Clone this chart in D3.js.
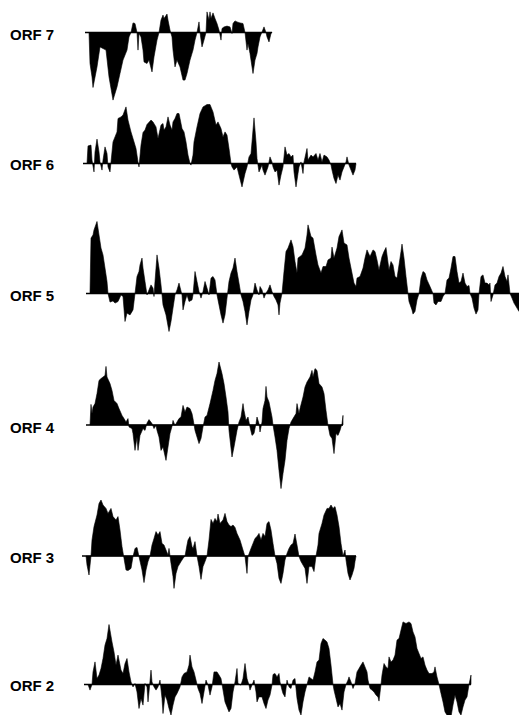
<!DOCTYPE html>
<html>
<head>
<meta charset="utf-8">
<script src="https://cdn.jsdelivr.net/npm/d3@7"></script>
<style>
  html, body { margin: 0; padding: 0; background: #fff; }
  svg { display: block; }
</style>
</head>
<body>
<script>
'use strict';

// hydropathy profiles: [residue, hydropathy value]
const orf7 = [[0,0],[1,-1.55],[3,-2.22],[4,-2.75],[8,-1.72],[11,-0.72],[14,-0.80],[17,-0.88],[20,-2.22],[24,-3.38],
  [28,-2.72],[31,-2.05],[34,-1.38],[38,-0.88],[40,-0.22],[42,0],[44,0.48],[46,0.45],[48,0],[49,-0.88],[50,-0.05],
  [52,-0.22],[54,-0.88],[55,-1.47],[58,-1.55],[60,-1.38],[63,-1.97],[65,-1.22],[68,-0.38],[70,0],[72,0.62],[74,0.87],
  [75,0.70],[78,0.92],[79,0.62],[81,0.12],[83,-0.22],[84,-0.88],[86,-1.72],[88,-1.38],[91,-1.72],[94,-2.38],[96,-2.38],
  [98,-2.05],[101,-1.38],[104,-0.88],[106,-0.38],[108,0],[110,0.53],[111,0],[113,-0.72],[115,-0.38],[117,0],[118,1.03],
  [120,0.62],[121,1.03],[122,0.70],[124,0.98],[126,0.70],[128,0.45],[130,0.12],[132,-0.38],[133,0.20],[135,0.28],
  [138,0.32],[141,0.28],[143,-0.05],[144,0.45],[146,0.58],[148,0.53],[151,0.48],[154,0.45],[156,0],[158,-0.88],
  [159,-0.55],[161,-1.05],[163,-1.72],[164,-2.05],[166,-1.38],[168,-1.05],[169,-0.72],[171,-0.22],[173,0.03],
  [175,0.28],[177,0],[178,-0.22],[180,-0.47],[182,-0.05],[183,0]];

const orf6 = [[0,0],[1,0.88],[4,0.92],[5,0.17],[7,-0.42],[8,0.58],[10,1.22],[12,0.58],[13,0.08],[15,-0.33],[16,0.17],
  [18,0.83],[20,0.50],[21,-0.17],[23,-0.42],[24,0.08],[26,1.08],[28,1.33],[30,1.58],[31,2.25],[34,2.33],[36,2.42],
  [39,2.83],[41,2.17],[44,1.58],[46,1.25],[49,0.75],[51,0.08],[52,-0.17],[54,0.92],[56,1.55],[58,1.67],[60,1.95],
  [64,2.17],[66,2.08],[69,1.83],[71,1.25],[74,1.92],[76,2.00],[77,1.67],[79,1.83],[81,2.33],[83,1.92],[85,1.67],
  [86,2.08],[88,2.25],[90,2.50],[92,2.50],[95,1.75],[97,1.58],[99,1.08],[101,0.42],[103,0],[104,-0.08],[106,0.42],
  [107,1.08],[110,1.83],[113,2.50],[116,2.83],[120,2.95],[123,2.95],[126,2.58],[129,1.92],[131,2.08],[134,1.75],
  [136,1.33],[138,1.58],[140,1.42],[142,0.75],[144,0],[145,-0.17],[147,-0.33],[150,-0.17],[152,-0.58],[155,-1.17],
  [158,-0.50],[160,-0.17],[162,0.33],[164,0.50],[165,1.08],[167,2.28],[169,1.08],[170,0.25],[172,-0.42],[175,-0.08],
  [176,-0.33],[178,-0.58],[181,-0.17],[183,0.33],[185,0.08],[186,-0.17],[188,-0.42],[190,-0.33],[192,-1.08],
  [194,-0.58],[196,-0.17],[198,0.83],[200,0.42],[202,0.50],[204,0.33],[206,0.42],[207,-0.42],[209,-1.17],[211,-0.50],
  [212,-0.17],[214,0.08],[216,-0.50],[217,0.08],[220,0.75],[221,0.17],[224,0.42],[226,0.33],[229,0.50],[231,0.17],
  [233,0.50],[235,0.08],[237,0.42],[240,0.33],[242,0.17],[244,-0.08],[245,-0.33],[247,-0.75],[249,-1.00],[251,-0.58],
  [253,-0.83],[255,-0.42],[257,-0.17],[259,0.08],[260,0.33],[262,-0.08],[264,-0.33],[266,-0.58],[268,-0.33],[269,0]];

const orf5 = [[0,0],[1,2.77],[3,2.93],[4,3.18],[7,3.60],[9,2.93],[11,2.27],[13,1.93],[15,1.27],[17,0.60],[18,0],
  [20,-0.43],[23,-0.37],[25,-0.48],[28,-0.40],[31,-0.07],[33,-0.15],[35,-1.40],[37,-0.98],[40,-1.07],[43,-0.82],
  [45,0],[47,0.85],[49,1.10],[50,1.43],[52,1.77],[53,1.27],[55,0.60],[57,-0.07],[59,0.18],[61,0.43],[63,0.27],
  [64,-0.15],[65,0.60],[67,1.93],[69,1.27],[71,0.43],[73,-0.57],[76,-1.07],[79,-1.90],[81,-1.40],[83,-0.73],
  [85,-0.07],[87,0.18],[89,0.52],[92,-0.07],[93,-0.82],[95,-0.40],[97,-0.07],[99,-0.40],[102,-0.32],[103,-0.07],
  [105,1.10],[107,0.60],[109,0.10],[111,-0.23],[113,0.10],[115,0.60],[117,0.27],[119,-0.07],[121,0.77],[123,0.85],
  [125,0.68],[127,-0.07],[129,-0.57],[131,-1.07],[133,-1.48],[135,-1.07],[137,-0.23],[139,0.60],[141,1.02],
  [143,1.27],[145,1.77],[147,1.10],[149,0.52],[151,-0.07],[153,-0.40],[155,-0.90],[157,-1.57],[159,-0.90],
  [161,-0.32],[163,-0.07],[165,0.52],[167,0.18],[169,-0.07],[170,0.35],[172,0.18],[174,-0.23],[176,0.02],[178,0.18],
  [180,0.43],[182,0.10],[184,-0.15],[186,-0.32],[188,-0.57],[189,-1.07],[190,-0.48],[192,0],[194,1.10],[196,2.10],
  [198,2.27],[201,2.68],[203,2.35],[205,1.60],[207,1.02],[208,1.77],[212,1.93],[215,2.27],[217,2.93],[218,3.43],
  [221,2.85],[223,2.77],[226,1.93],[228,1.43],[231,1.02],[233,1.35],[236,1.35],[238,1.68],[241,1.77],[242,2.32],
  [244,1.77],[247,2.27],[249,2.85],[252,3.18],[254,2.52],[257,2.43],[259,1.77],[262,1.02],[264,0.52],[266,0.35],
  [267,0.77],[270,0.85],[273,1.27],[275,1.77],[277,2.18],[280,1.85],[283,2.18],[285,2.10],[287,1.68],[289,1.18],
  [292,1.85],[294,2.10],[296,2.30],[297,1.93],[299,1.18],[301,1.60],[303,1.43],[305,0.85],[307,0.77],[309,1.43],
  [311,2.10],[312,2.47],[314,1.77],[316,0.85],[318,0],[319,-0.40],[322,-0.82],[323,-1.03],[325,-0.90],[327,-0.32],
  [329,0],[331,0.77],[333,1.10],[335,1.02],[337,0.68],[340,0.35],[343,0],[344,-0.48],[346,-0.57],[348,-0.40],
  [351,-0.40],[353,-0.15],[355,0],[357,0.68],[359,0.77],[361,1.27],[363,1.85],[365,1.85],[367,1.10],[369,0.52],
  [371,0.60],[373,1.02],[375,0.52],[377,0.35],[379,0.40],[380,0],[382,-0.23],[384,-0.73],[386,-1.03],[388,-0.82],
  [389,0],[391,0.85],[393,0.93],[395,0.52],[397,0.52],[399,0.43],[400,0.52],[401,-0.40],[403,-0.07],[405,0.43],
  [407,0.52],[409,0.85],[411,1.02],[413,1.35],[415,0.85],[417,0.60],[418,0.93],[420,0],[422,-0.23],[424,-0.48],
  [427,-0.73],[429,-0.90],[431,-0.90]];

const orf4 = [[0,0],[1,1.03],[2,0.57],[3,0.90],[5,1.07],[7,1.57],[9,2.23],[11,2.32],[13,2.40],[15,2.48],[16,2.93],
  [17,2.40],[20,2.07],[22,1.73],[24,1.23],[27,1.07],[29,0.82],[32,0.48],[34,0.32],[36,0.15],[38,0.32],[39,-0.10],
  [42,-0.18],[43,-0.43],[45,-1.27],[47,-0.60],[48,-1.27],[50,-0.52],[53,-0.18],[55,-0.27],[57,0.10],[59,0.27],
  [62,0.07],[64,-0.18],[66,-0.02],[67,-0.27],[69,-0.60],[71,-1.27],[73,-1.10],[76,-1.77],[78,-1.10],[80,-0.43],
  [82,-0.07],[83,0.23],[85,-0.02],[87,0.15],[89,0.32],[91,0.40],[93,0.98],[95,0.65],[97,0.90],[100,0.82],[102,0.57],
  [103,0.32],[105,-0.27],[107,-0.60],[109,-0.93],[111,-0.68],[113,-0.10],[115,0.40],[117,0.48],[120,1.07],[123,1.73],
  [125,2.23],[127,2.57],[129,3.15],[132,2.57],[134,2.07],[136,1.40],[138,0.65],[139,-0.27],[142,-1.60],[144,-1.10],
  [147,-0.27],[149,0.15],[151,0.40],[153,1.07],[154,0.73],[156,0.23],[158,0.40],[160,-0.10],[162,-0.52],[164,-0.43],
  [166,0.07],[167,0.40],[169,0.07],[170,-0.35],[172,0.15],[173,0.82],[175,1.23],[176,1.93],[177,1.40],[179,1.15],
  [182,0.40],[183,0],[185,-0.60],[187,-1.27],[189,-2.27],[191,-3.18],[193,-2.43],[195,-1.77],[197,-0.77],[199,-0.18],
  [201,0.15],[203,0.32],[206,0.57],[207,1.07],[209,0.57],[210,0.82],[213,1.40],[215,1.90],[217,2.15],[220,2.40],
  [222,2.73],[223,2.40],[225,2.82],[227,2.73],[229,2.07],[232,1.90],[234,1.57],[236,0.73],[238,-0.02],[240,-0.52],
  [242,-0.68],[244,-1.43],[246,-0.43],[248,-0.52],[250,-0.27],[252,0.07],[253,0.48]];

const orf3 = [[0,0],[1,-0.45],[3,-0.95],[5,0],[6,0.80],[8,1.47],[11,2.05],[13,2.63],[15,2.80],[17,2.55],[20,2.38],
  [22,2.13],[25,2.38],[27,1.97],[30,1.80],[32,1.97],[34,1.30],[36,0.47],[38,-0.12],[40,-0.70],[42,-0.73],[45,-0.62],
  [47,-0.03],[49,0.38],[51,0.43],[53,-0.03],[56,-0.70],[58,-1.33],[60,-0.70],[62,-0.28],[64,0],[66,0.55],[68,0.88],
  [70,1.22],[72,1.05],[74,1.22],[76,0.63],[78,0.55],[80,0.30],[82,0.05],[83,0.38],[85,-0.37],[87,-1.03],[88,-1.62],
  [90,-0.87],[92,-0.53],[95,-0.28],[97,-0.12],[99,0],[101,0.55],[102,0.80],[104,0.97],[106,0.47],[107,0.38],
  [109,0.72],[111,0],[113,-0.53],[115,-1.17],[117,-0.53],[119,-0.28],[121,0],[123,0.80],[125,1.83],[127,1.63],
  [129,1.88],[131,1.72],[132,2.10],[134,1.63],[137,1.80],[139,2.13],[141,1.72],[143,1.55],[145,1.47],[147,1.55],
  [149,1.43],[151,1.13],[154,0.80],[157,0.30],[159,-0.03],[161,-0.87],[162,-0.03],[165,0.38],[167,0.63],[169,0.88],
  [171,0.97],[173,1.13],[175,0.80],[177,1.13],[179,0.97],[181,1.63],[183,1.72],[185,1.30],[187,0.63],[189,0],
  [191,-0.37],[193,-1.12],[195,-1.37],[197,-0.87],[199,-0.20],[201,0.13],[203,0.38],[205,0.55],[207,0.63],[209,1.10],
  [211,0.55],[213,-0.03],[215,-0.28],[217,-0.45],[219,-0.62],[221,-1.37],[223,-0.53],[226,-0.53],[228,-0.78],[230,0],
  [232,0.55],[233,1.13],[236,1.63],[238,2.05],[241,2.38],[243,2.38],[245,2.55],[247,2.38],[249,2.47],[251,2.05],
  [253,1.47],[255,0.63],[257,0],[259,0.30],[260,-0.20],[262,-0.87],[264,-1.20],[266,-0.95],[268,-0.62],[269,-0.28],
  [270,0]];

const orf2 = [[0,0],[2,-0.28],[4,0],[5,0.63],[7,1.13],[9,0.30],[11,0.47],[13,0.80],[15,1.30],[17,1.97],[19,2.30],
  [21,3.00],[24,2.13],[26,1.63],[28,0.97],[30,1.47],[33,0.72],[35,0.55],[37,1.05],[39,1.30],[41,0.63],[43,0.13],
  [45,-0.12],[47,0.05],[49,-0.37],[51,-1.20],[53,-0.70],[55,-1.03],[57,0.05],[59,-0.12],[60,-0.87],[61,-0.37],
  [63,0.72],[64,0.13],[66,-0.12],[68,-0.28],[70,-0.12],[72,0.22],[74,-0.70],[75,-1.45],[77,-0.53],[79,-0.78],
  [81,-1.20],[83,-1.53],[85,-1.03],[87,-0.62],[89,-0.45],[92,-0.12],[94,0.38],[96,0.55],[99,0.63],[101,0.97],
  [102,1.47],[104,0.88],[106,0.63],[108,0.22],[110,-0.20],[112,-0.45],[114,-0.95],[116,-0.37],[118,0.22],[120,-0.03],
  [122,-0.53],[124,-0.12],[126,0.63],[129,0.63],[131,0.47],[133,0.30],[135,-0.28],[137,-0.87],[139,-1.12],[141,-1.37],
  [143,-1.20],[145,-0.37],[147,0.13],[149,0.80],[150,0.05],[153,-0.03],[155,0.30],[157,1.05],[159,0.30],[161,-0.03],
  [162,-0.28],[164,-0.03],[166,0.22],[168,-0.37],[169,-0.87],[171,-0.62],[174,-0.62],[176,-0.95],[178,-1.20],
  [180,-0.78],[182,-0.53],[184,-0.03],[185,0.50],[187,0.55],[189,0.38],[191,0.55],[192,0.13],[194,-0.28],[195,-0.45],
  [197,-0.62],[199,0.22],[201,-0.12],[203,-0.20],[205,0.22],[207,0.30],[208,-0.20],[209,-0.70],[211,-1.28],
  [213,-1.53],[215,-0.87],[217,-0.37],[219,0],[221,0.38],[223,0.30],[225,0.22],[227,0.63],[229,1.13],[231,1.22],
  [233,2.05],[235,2.30],[237,2.22],[239,2.13],[241,1.80],[243,0.97],[245,0],[246,-0.28],[248,-0.70],[250,-1.12],
  [252,-0.95],[254,-1.28],[256,-0.37],[258,0],[260,0.22],[261,0.38],[263,0.13],[265,-0.20],[267,0.05],[269,0.63],
  [271,0.80],[273,0.97],[275,1.13],[277,0.88],[279,0.63],[280,0.22],[282,-0.20],[284,-0.28],[286,-0.37],[288,-0.53],
  [290,-0.62],[291,-0.83],[293,0],[294,0.47],[296,1.05],[298,0.88],[300,0.80],[301,1.38],[303,1.13],[305,1.22],
  [307,1.47],[309,2.22],[311,2.30],[313,2.72],[315,3.13],[318,3.05],[321,3.13],[323,3.05],[325,2.63],[327,2.38],
  [329,1.80],[331,1.55],[333,1.30],[335,1.38],[337,0.97],[339,0.72],[341,0.55],[344,0.55],[346,0.63],[347,0.88],
  [349,0.38],[351,0],[353,-0.45],[355,-0.87],[357,-1.37],[359,-1.53],[361,-1.70],[363,-1.62],[365,-1.03],[367,-0.53],
  [369,-0.87],[371,-1.37],[373,-1.53],[375,-1.12],[377,-0.78],[379,-0.62],[381,0],[383,0.47]];

const orfNames = ["ORF 7", "ORF 6", "ORF 5", "ORF 4", "ORF 3", "ORF 2"];
const orfData = [orf7, orf6, orf5, orf4, orf3, orf2];

// page layout for each panel (left edge of profile, baseline, label text baseline)
const layout = [
  {x0: 89, base: 32.5, labelY: 39.5},
  {x0: 87, base: 163.5, labelY: 169.5},
  {x0: 90, base: 293.5, labelY: 301},
  {x0: 90, base: 425, labelY: 432.5},
  {x0: 86, base: 556, labelY: 562.5},
  {x0: 88, base: 684.5, labelY: 691}
];

const W = 519, H = 715;

const svg = d3.select('body')
  .append('svg')
  .attr('width', W)
  .attr('height', H);

// one residue per pixel, one hydropathy unit per 20 px
const x = d3.scaleLinear().domain([0, 100]).range([0, 100]);
const y = d3.scaleLinear().domain([-1, 1]).range([20, -20]);

orfData.forEach((data, i) => {
  const L = layout[i];
  const g = svg.append('g')
    .attr('transform', 'translate(' + L.x0 + ',' + L.base + ')');

  const area = d3.area()
    .x((d) => x(d[0]))
    .y0(y(0))
    .y1((d) => y(d[1]))
    .curve(d3.curveLinear);

  g.append('path')
    .datum(data)
    .attr('d', area)
    .attr('fill', '#000')
    .attr('stroke', '#000')
    .attr('stroke-width', 0.6)
    .attr('stroke-linejoin', 'round');

  // baseline
  const last = d3.max(data, (d) => d[0]);
  g.append('line')
    .attr('x1', x(0) - 4)
    .attr('x2', x(last))
    .attr('y1', y(0))
    .attr('y2', y(0))
    .attr('stroke', '#000')
    .attr('stroke-width', 1.5);

  svg.append('text')
    .attr('x', 10)
    .attr('y', L.labelY)
    .style('font-family', '"Liberation Sans", Arial, Helvetica, sans-serif')
    .style('font-weight', 'bold')
    .style('font-size', '15px')
    .text(orfNames[i]);
});
</script>
</body>
</html>
